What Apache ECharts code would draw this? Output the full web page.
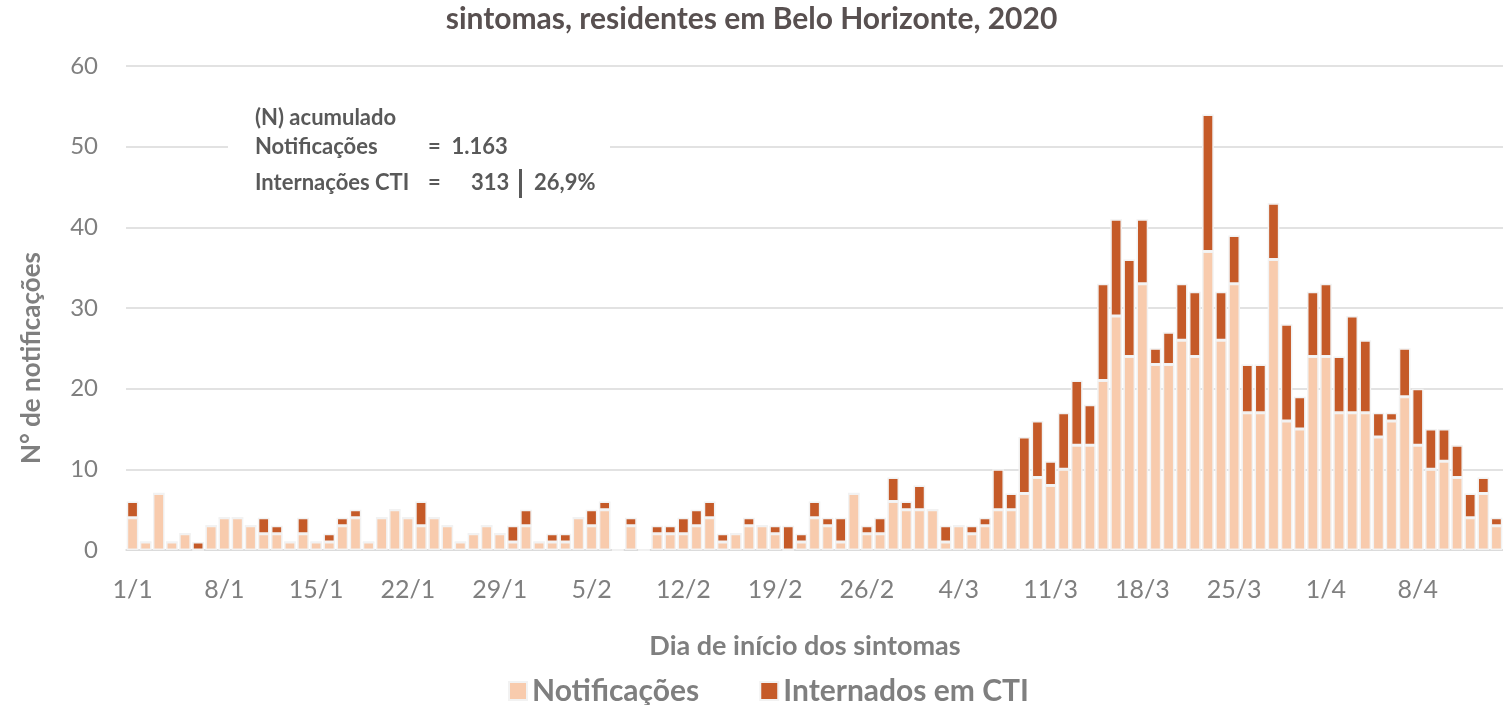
<!DOCTYPE html>
<html>
<head>
<meta charset="utf-8">
<script src="https://cdn.jsdelivr.net/npm/echarts@6/dist/echarts.min.js"></script>
<style>
html,body{margin:0;padding:0;background:#fff;}
#chart{width:1503px;height:705px;}
</style>
</head>
<body>
<div id="chart"></div>
<script>
var categories = [
"1/1","2/1","3/1","4/1","5/1","6/1","7/1","8/1","9/1","10/1","11/1","12/1","13/1","14/1","15/1","16/1","17/1","18/1","19/1","20/1","21/1","22/1","23/1","24/1","25/1","26/1","27/1","28/1","29/1","30/1","31/1",
"1/2","2/2","3/2","4/2","5/2","6/2","7/2","8/2","9/2","10/2","11/2","12/2","13/2","14/2","15/2","16/2","17/2","18/2","19/2","20/2","21/2","22/2","23/2","24/2","25/2","26/2","27/2","28/2","29/2",
"1/3","2/3","3/3","4/3","5/3","6/3","7/3","8/3","9/3","10/3","11/3","12/3","13/3","14/3","15/3","16/3","17/3","18/3","19/3","20/3","21/3","22/3","23/3","24/3","25/3","26/3","27/3","28/3","29/3","30/3","31/3",
"1/4","2/4","3/4","4/4","5/4","6/4","7/4","8/4","9/4","10/4","11/4","12/4","13/4","14/4"
];
var notificacoes = [
4,1,7,1,2,0,3,4,4,3,2,2,1,2,1,1,3,4,1,4,5,4,3,4,3,1,2,3,2,1,3,
1,1,1,4,3,5,0,3,0,2,2,2,3,4,1,2,3,3,2,0,1,4,3,1,7,2,2,6,5,
5,5,1,3,2,3,5,5,7,9,8,10,13,13,21,29,24,33,23,23,26,24,37,26,33,17,17,36,16,15,24,
24,17,17,17,14,16,19,13,10,11,9,4,7,3
];
var internadosCTI = [
2,0,0,0,0,1,0,0,0,0,2,1,0,2,0,1,1,1,0,0,0,0,3,0,0,0,0,0,0,2,2,
0,1,1,0,2,1,0,1,0,1,1,2,2,2,1,0,1,0,1,3,1,2,1,3,0,1,2,3,1,
3,0,2,0,1,1,5,2,7,7,3,7,8,5,12,12,12,8,2,4,7,8,17,6,6,6,6,7,12,4,8,
9,7,12,9,3,1,6,7,5,4,4,3,2,1
];
var yTicks = [0,10,20,30,40,50,60];

var FONT = 'Lato';
var ANN = {fontFamily:FONT,fontSize:22,fontWeight:'bold',fill:'#595959',verticalAlign:'middle'};
function annText(x,y,t){return {type:'text',z:101,x:x,y:y,style:Object.assign({text:t},ANN)};}

var chart = echarts.init(document.getElementById('chart'), null, {renderer:'canvas'});
chart.setOption({
  backgroundColor:'#ffffff',
  animation:false,
  textStyle:{fontFamily:FONT},
  title:{
    text:'sintomas, residentes em Belo Horizonte, 2020',
    left:'center', top:-1,
    textStyle:{fontFamily:FONT,fontSize:30,fontWeight:'bold',color:'#585050'}
  },
  legend:{
    data:['Notificações','Internados em CTI'],
    left:503, top:671,
    itemWidth:18, itemHeight:18, itemGap:60,
    icon:'rect',
    textStyle:{fontFamily:FONT,fontSize:30,fontWeight:'bold',color:'#7f7f7f'}
  },
  grid:{left:126, right:-3, top:66, bottom:155, containLabel:false},
  xAxis:{
    type:'category',
    data:categories,
    axisLine:{show:true,lineStyle:{color:'#d9d9d9',width:1.5}},
    axisTick:{show:false},
    axisLabel:{interval:6,color:'#7f7f7f',fontSize:25,fontFamily:FONT,margin:27}
  },
  yAxis:{
    type:'value', min:0, max:60, interval:10,
    axisLine:{show:false}, axisTick:{show:false},
    axisLabel:{color:'#7f7f7f',fontSize:24,fontFamily:FONT,margin:28},
    splitLine:{lineStyle:{color:'#d9d9d9',width:1.5}}
  },
  graphic:[
    {type:'rect',z:100,shape:{x:228,y:96,width:382,height:108},style:{fill:'#ffffff'}},
    annText(255,118,'(N) acumulado'),
    annText(255,147,'Notificações'),
    annText(428,147,'=  1.163'),
    annText(255,183,'Internações CTI'),
    annText(428,183,'='),
    annText(471,183,'313'),
    {type:'rect',z:101,shape:{x:519,y:169,width:3,height:29},style:{fill:'#595959'}},
    annText(534,183,'26,9%'),
    {type:'text',z:101,x:32,y:358,rotation:Math.PI/2,style:{text:'N° de notificações',fontFamily:FONT,fontSize:26,fontWeight:'bold',fill:'#7f7f7f',align:'center',verticalAlign:'middle'}},
    {type:'text',z:101,x:805,y:646,style:{text:'Dia de início dos sintomas',fontFamily:FONT,fontSize:27,fontWeight:'bold',fill:'#7f7f7f',align:'center',verticalAlign:'middle'}}
  ],
  series:[
    {name:'Notificações',type:'bar',stack:'t',data:notificacoes,barWidth:11.7,
     itemStyle:{color:'#F8CBAD',borderColor:'#f2f2f2',borderWidth:1.5}},
    {name:'Internados em CTI',type:'bar',stack:'t',data:internadosCTI,barWidth:11.7,
     itemStyle:{color:'#C55A28',borderColor:'#f2f2f2',borderWidth:1.5}}
  ]
});
</script>
</body>
</html>
